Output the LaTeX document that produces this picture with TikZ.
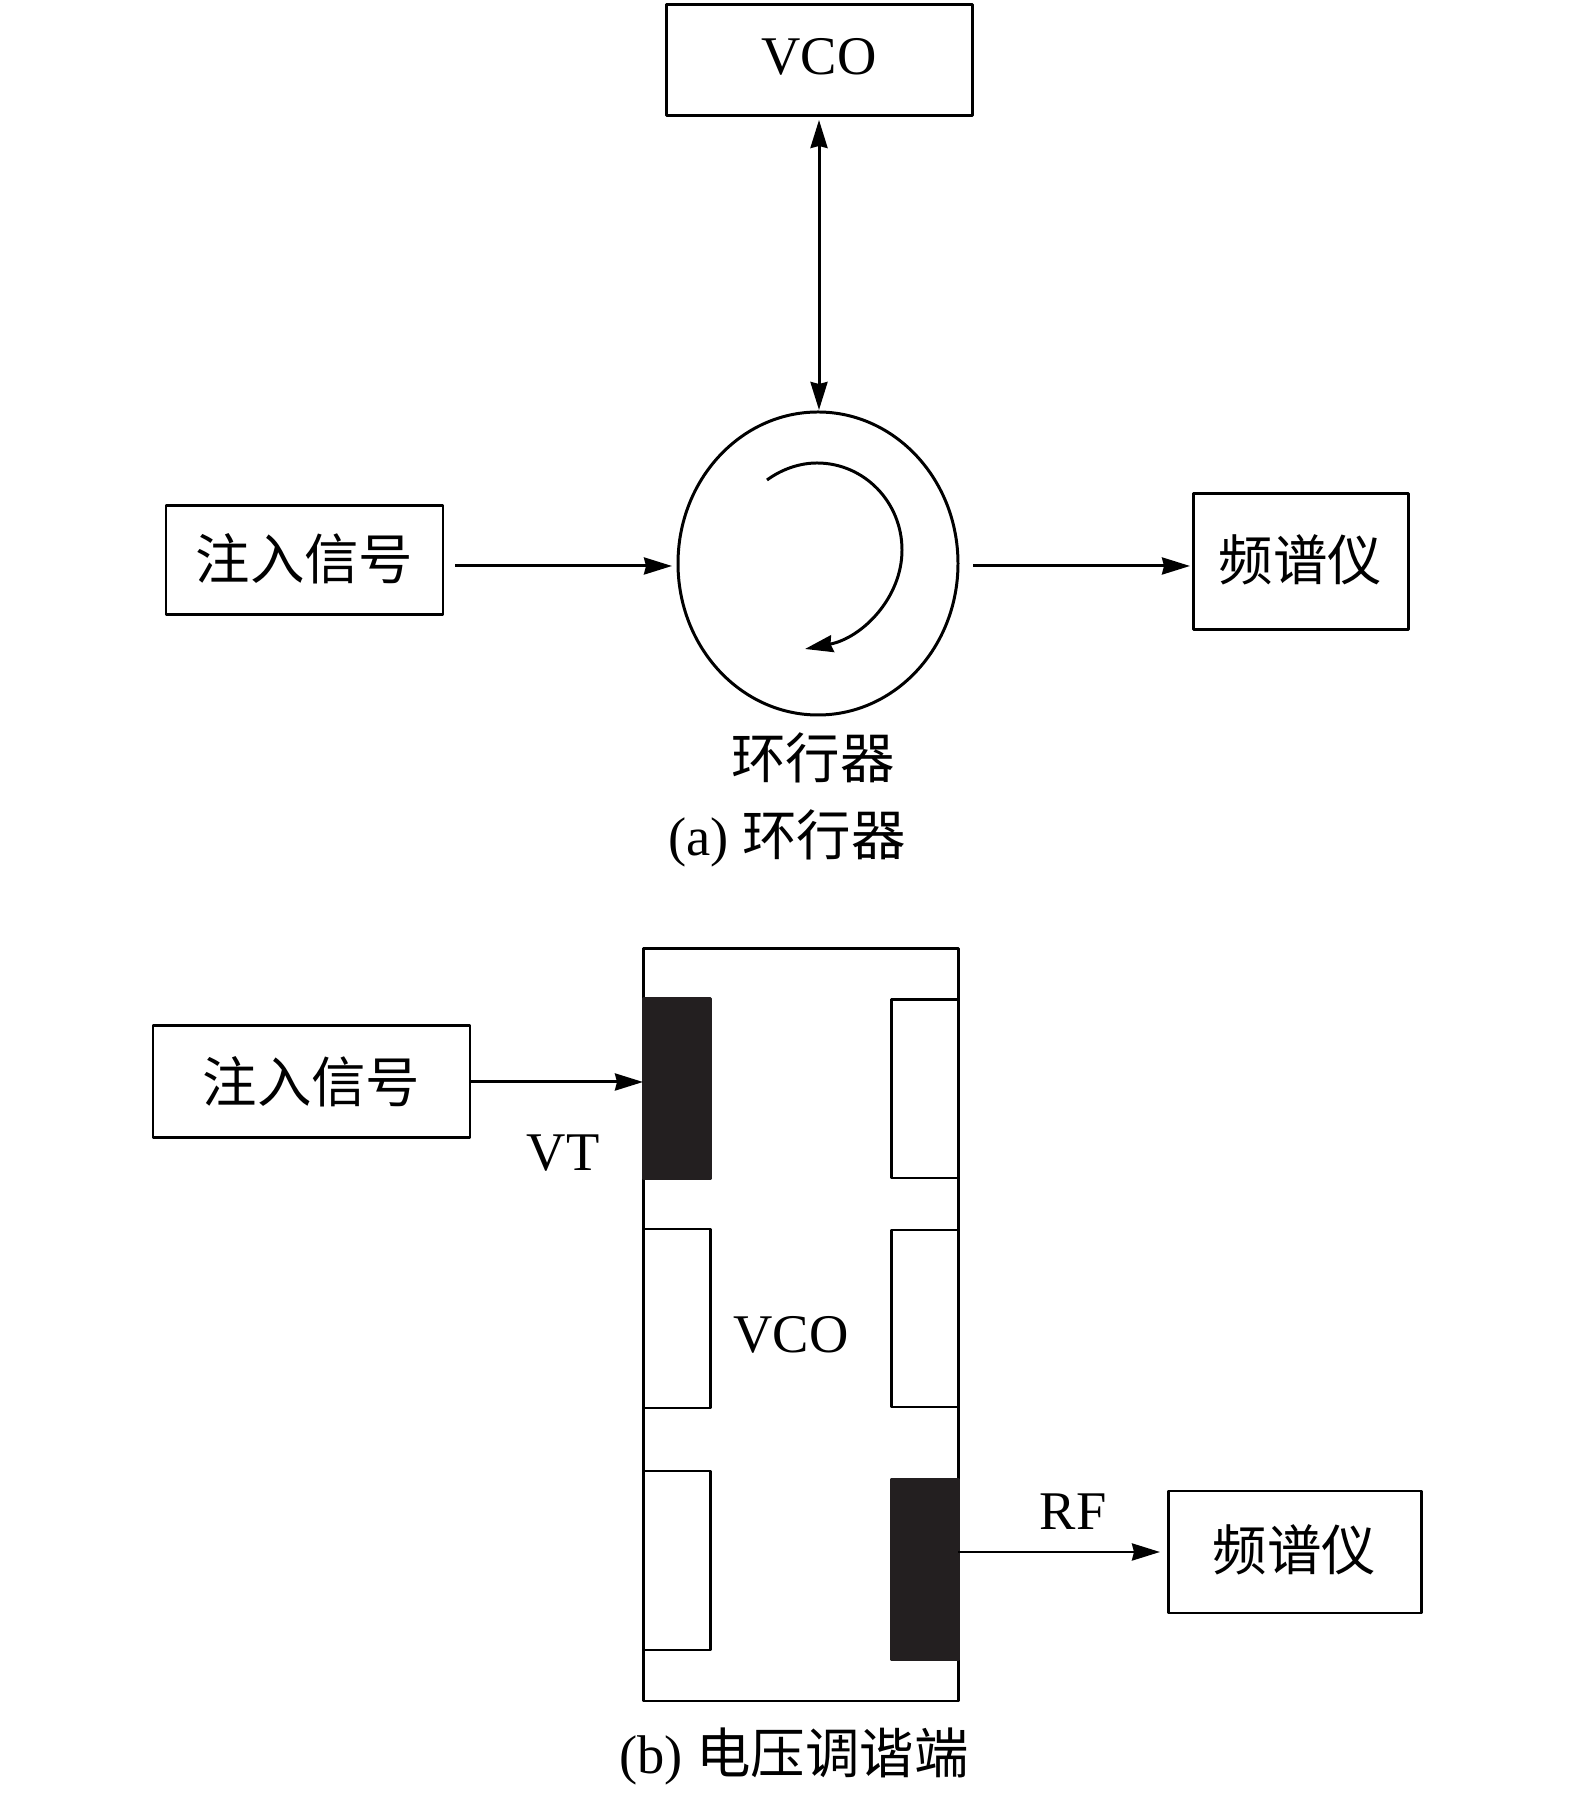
\documentclass[tikz,border=0pt]{standalone}
\usepackage{fontspec}
\setmainfont{Liberation Serif}
\newfontfamily\cjk{Noto Sans CJK SC}
\usetikzlibrary{arrows.meta,shapes.geometric}
\tikzset{
  blockbox/.style={draw=black, line width=0.85pt, line join=round, inner sep=0pt, outer sep=0pt},
  padwhite/.style={blockbox, minimum width=0.67cm},
  padblack/.style={blockbox, fill=padcolor, draw=padcolor, minimum width=0.67cm},
  ringshape/.style={blockbox, ellipse, minimum width=2.80cm, minimum height=3.03cm},
  blocklabel/.style={font=\fontsize{15.5}{18}\selectfont, inner sep=0pt},
  link/.style={line width=0.85pt, -{Stealth[length=2.8mm,width=1.7mm,inset=0.2mm]}},
  duallink/.style={line width=0.85pt, {Stealth[length=2.8mm,width=1.7mm,inset=0.2mm]}-{Stealth[length=2.8mm,width=1.7mm,inset=0.2mm]}},
}
\definecolor{padcolor}{HTML}{231F20}
\begin{document}
\begin{tikzpicture}
\useasboundingbox (0,0) rectangle (15.75,17.95);
% (a)
\node[blockbox, blocklabel, minimum width=3.06cm, minimum height=1.11cm] (vcoa) at (8.19,17.345) {\raisebox{0.08cm}{VCO}};
\node[ringshape] (ring) at (8.18,12.315) {};
\node[blockbox, blocklabel, minimum width=2.77cm, minimum height=1.09cm] (injecta) at (3.045,12.345) {\raisebox{0.08cm}{\cjk 注入信号}};
\node[blockbox, blocklabel, minimum width=2.15cm, minimum height=1.36cm] (specta) at (13.005,12.33) {\raisebox{0.08cm}{\cjk 频谱仪}};
\node[blocklabel] (ringname) at (8.13,10.37) {\cjk 环行器};
\node[blocklabel] (capa) at (7.87,9.57) {(a) {\cjk 环行器}};
\draw[duallink] ([yshift=-0.04cm]vcoa.south) -- ([yshift=0.02cm]vcoa.south |- ring.north);
\draw[link] ([shift={(0.12,-0.055)}]injecta.east) -- ([shift={(-0.06,-0.025)}]ring.west);
\draw[link] ([shift={(0.15,-0.025)}]ring.east) -- ([shift={(-0.03,-0.04)}]specta.west);
\draw[link] (7.67,13.15) .. controls (7.82,13.26) and (8.00,13.32) .. (8.17,13.32)
  .. controls (8.64,13.32) and (9.02,12.93) .. (9.02,12.45)
  .. controls (9.02,11.97) and (8.62,11.57) .. (8.05,11.46);
% (b)
\node[blockbox, minimum width=3.15cm, minimum height=7.52cm] (vcob) at (8.005,4.70) {};
\node[padblack, minimum height=1.80cm] (vtpad) at (6.765,7.06) {};
\node[padwhite, minimum height=1.79cm] (padlb) at (6.765,4.765) {};
\node[padwhite, minimum height=1.79cm] (padlc) at (6.765,2.345) {};
\node[padwhite, minimum height=1.78cm] (padra) at (9.245,7.06) {};
\node[padwhite, minimum height=1.77cm] (padrb) at (9.245,4.765) {};
\node[padblack, minimum height=1.81cm] (rfpad) at (9.245,2.255) {};
\node[blocklabel] (vcoblabel) at (7.91,4.60) {VCO};
\node[blockbox, blocklabel, minimum width=3.17cm, minimum height=1.12cm] (injectb) at (3.115,7.13) {\raisebox{-0.05cm}{\cjk 注入信号}};
\node[blockbox, blocklabel, minimum width=2.53cm, minimum height=1.22cm] (spectb) at (12.945,2.43) {\raisebox{0.08cm}{\cjk 频谱仪}};
\node[blocklabel] (vtlabel) at (5.63,6.42) {VT};
\node[blocklabel] (rflabel) at (10.73,2.83) {RF};
\node[blocklabel] (capb) at (7.94,0.385) {(b) {\cjk 电压调谐端}};
\draw[link] (injectb.east) -- (injectb.east -| vtpad.west);
\draw[link] (rfpad.east |- spectb.west) -- ([xshift=-0.08cm]spectb.west);
\end{tikzpicture}
\end{document}
